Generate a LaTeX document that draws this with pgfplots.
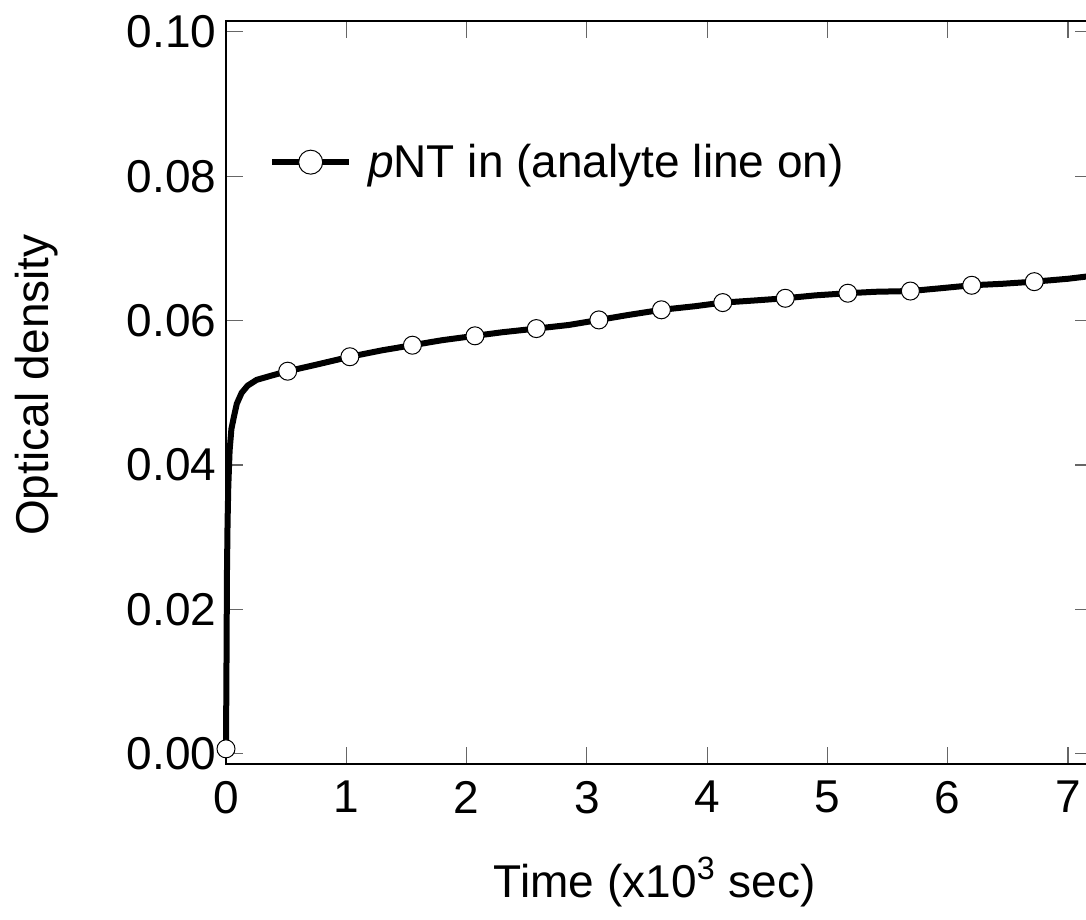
\documentclass[border=0pt]{standalone}
\usepackage{fontspec}
\setmainfont{Liberation Sans}
\usepackage{pgfplots}
\pgfplotsset{compat=1.18}
\newcommand{\bigf}{\fontsize{23}{27.6}\selectfont}
\begin{document}
\begin{tikzpicture}
\begin{axis}[
  name=ax,
  scale only axis,
  width=433pt, height=371.5pt,
  xmin=0, xmax=7.2,
  ymin=-0.0014, ymax=0.1015,
  clip=false,
  axis line style={black, line width=0.7pt},
  tick style={gray!80!black, line width=0.6pt},
  major tick length=8.5pt,
  tick align=inside,
  xtick={0,1,2,3,4,5,6,7},
  ytick={0,0.02,0.04,0.06,0.08,0.10},
  /pgf/number format/assume math mode=true,
  yticklabel style={/pgf/number format/fixed, /pgf/number format/fixed zerofill, /pgf/number format/precision=2, xshift=-1.3pt},
  scaled y ticks=false,
  xticklabel style={yshift=-5pt},
  tick label style={font=\bigf},
  label style={font=\bigf},
  xlabel={Time (x10\textsuperscript{3} sec)},
  ylabel={Optical density},
  xlabel style={at={(axis description cs:0.495,-0.18)}, anchor=base},
  ylabel style={at={(axis description cs:-0.2055,0.51)}, anchor=base},
  legend style={at={(axis description cs:0.0494,0.81)}, anchor=west, draw=none, fill=none, inner sep=0pt, font=\bigf},
  legend image code/.code={
    \draw[mark repeat=2,mark phase=2,#1] plot coordinates {(0pt,0pt) (19.25pt,0pt) (38.5pt,0pt)};
  },
]
\addlegendimage{black, line width=3pt, mark=*, mark size=6pt, mark options={fill=white, draw=black, line width=0.5pt}}
\addlegendentry{\hspace{6pt}\textit{p}NT in (analyte line on)}
\addplot[black, line width=3pt, no marks, forget plot, line join=round] coordinates {
(0,0.0008) (0.004,0.012) (0.008,0.025) (0.013,0.032) (0.019,0.037) (0.03,0.042)
(0.045,0.0450) (0.066,0.0467) (0.09,0.0485) (0.13,0.0500) (0.18,0.0510)
(0.255,0.0518) (0.38,0.0524) (0.513,0.0530) (0.75,0.0539) (1.03,0.0550)
(1.3,0.0559) (1.55,0.0566) (1.8,0.0573) (2.07,0.0579) (2.3,0.0584) (2.58,0.0589)
(2.85,0.0594) (3.10,0.0601) (3.35,0.0608) (3.62,0.0615) (3.9,0.0620) (4.13,0.0625)
(4.4,0.0628) (4.65,0.0631) (4.9,0.0635) (5.17,0.0638) (5.4,0.0640) (5.69,0.0641)
(5.95,0.0645) (6.20,0.0649) (6.45,0.0651) (6.72,0.0654) (7.0,0.0658) (7.2,0.0662)
};
\addplot[only marks, mark=*, mark size=4.5pt, mark options={fill=white, draw=black, line width=0.5pt}, forget plot] coordinates {
(0,0.0007) (0.513,0.0530) (1.03,0.0550) (1.55,0.0566) (2.07,0.0579) (2.58,0.0589)
(3.10,0.0601) (3.62,0.0615) (4.13,0.0625) (4.65,0.0631) (5.17,0.0638) (5.69,0.0641)
(6.20,0.0649) (6.72,0.0654)
};
\end{axis}
\pgfresetboundingbox
\path (ax.south west) ++(-113pt,-78pt) rectangle ++(543pt,460pt);
\end{tikzpicture}
\end{document}
